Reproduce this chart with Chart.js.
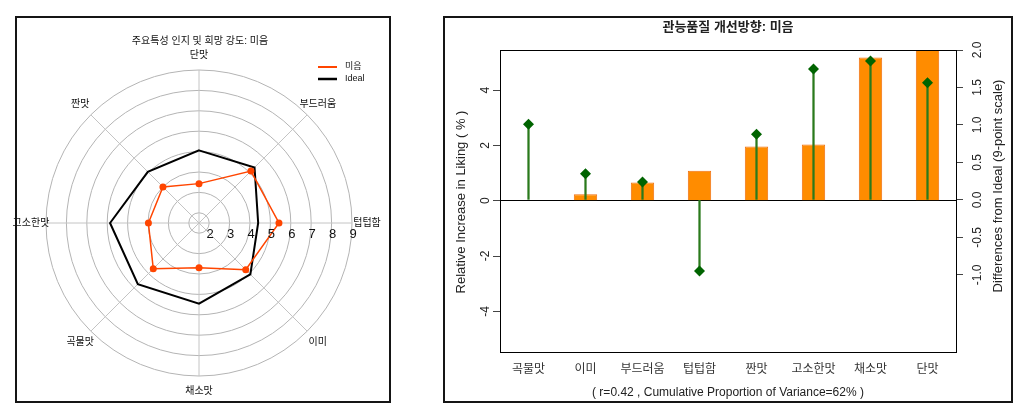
<!DOCTYPE html>
<html>
<head>
<meta charset="utf-8">
<script src="https://cdn.jsdelivr.net/npm/chart.js@4.4.1/dist/chart.umd.min.js"></script>
<style>
  body { margin: 0; background: #fff; }
  #page { position: relative; width: 1032px; height: 412px; }
  .box { position: absolute; border: 2px solid #151515; box-sizing: border-box; }
  canvas { position: absolute; }
</style>
</head>
<body>
<div id="page">
  <div class="box" style="left:15px; top:16px; width:376px; height:387px;"></div>
  <div class="box" style="left:443px; top:16px; width:570px; height:387px;"></div>
  <canvas id="radarChart" width="400" height="412" style="left:0; top:0; width:400px; height:412px;"></canvas>
  <canvas id="liftChart" width="612" height="412" style="left:420px; top:0; width:612px; height:412px;"></canvas>
</div>
<script>
const FONT = "'Liberation Sans', 'Noto Sans CJK KR', sans-serif";

// radar: perceived vs ideal intensity
const radarTitle = '주요특성 인지 및 희망 강도: 미음';
const radarLabels = ['단맛', '부드러움', '텁텁함', '이미', '채소맛', '곡물맛', '고소한맛', '짠맛'];
const mieumValues = [3.43, 5.1, 5.42, 4.74, 3.69, 4.67, 3.98, 4.0];
const idealValues = [5.06, 5.35, 4.4, 5.06, 5.45, 5.74, 5.86, 5.05];
const radarTicks = [2, 3, 4, 5, 6, 7, 8, 9];
const radarMin = 1.5;

// bar + stem chart
const liftTitle = '관능품질 개선방향: 미음';
const liftNote = '( r=0.42 , Cumulative Proportion of Variance=62% )';
const attrLabels = ['곡물맛', '이미', '부드러움', '텁텁함', '짠맛', '고소한맛', '채소맛', '단맛'];
const likingIncrease = [0, 0.23, 0.66, 1.08, 1.96, 2.03, 5.18, 5.45];
const idealDiff = [1.01, 0.35, 0.24, -0.95, 0.876, 1.747, 1.853, 1.564];
const leftTicks = [-4, -2, 0, 2, 4];
const rightTicks = [-1.0, -0.5, 0.0, 0.5, 1.0, 1.5, 2.0];

const radarText = {
    id: 'radarText',
    afterDraw(chart) {
        const ctx = chart.ctx;
        const r = chart.scales.r;
        ctx.save();
        ctx.fillStyle = '#111';
        ctx.textAlign = 'center';
        ctx.textBaseline = 'middle';
        ctx.font = '10px ' + FONT;
        ctx.fillText(radarTitle, 200, 41);

        const outer = r.getDistanceFromCenterForValue(r.max);
        radarLabels.forEach((label, i) => {
            const p = r.getPointPosition(i, outer + 15);
            ctx.fillText(label, p.x, p.y);
        });

        ctx.font = '13px ' + FONT;
        radarTicks.forEach((v) => {
            const d = r.getDistanceFromCenterForValue(v);
            ctx.fillText(String(v), r.xCenter + d + 1, r.yCenter + 11);
        });

        // legend
        ctx.font = '9px ' + FONT;
        ctx.textAlign = 'left';
        ctx.lineWidth = 2;
        ctx.strokeStyle = 'orangered';
        ctx.beginPath(); ctx.moveTo(318, 67); ctx.lineTo(337, 67); ctx.stroke();
        ctx.lineWidth = 2.5;
        ctx.strokeStyle = '#000';
        ctx.beginPath(); ctx.moveTo(318, 79); ctx.lineTo(337, 79); ctx.stroke();
        ctx.fillText('미음', 345, 67);
        ctx.fillText('Ideal', 345, 79);
        ctx.restore();
    }
};

new Chart(document.getElementById('radarChart'), {
    type: 'radar',
    data: {
        labels: radarLabels,
        datasets: [{
            label: '미음',
            data: mieumValues,
            borderColor: 'orangered',
            backgroundColor: 'orangered',
            borderWidth: 1.5,
            pointRadius: 3.5,
            pointBackgroundColor: 'orangered',
            pointBorderWidth: 0,
            fill: false
        }, {
            label: 'Ideal',
            data: idealValues,
            borderColor: '#000',
            borderWidth: 2,
            pointRadius: 0,
            fill: false
        }]
    },
    options: {
        responsive: false,
        animation: false,
        layout: { padding: { left: 46, right: 48, top: 70, bottom: 36 } },
        plugins: { legend: { display: false }, tooltip: { enabled: false } },
        scales: {
            r: {
                min: radarMin,
                max: 9,
                afterBuildTicks: (s) => { s.ticks = [radarMin].concat(radarTicks).map(v => ({ value: v })); },
                ticks: { display: false },
                pointLabels: { display: false },
                grid: { circular: true, color: '#b4b4b4', lineWidth: 1 },
                angleLines: { color: '#c4c4c4', lineWidth: 1 }
            }
        }
    },
    plugins: [radarText]
});

const liftText = {
    id: 'liftText',
    afterDraw(chart) {
        const ctx = chart.ctx;
        const a = chart.chartArea;
        const y = chart.scales.y;
        const y2 = chart.scales.y2;
        ctx.save();
        ctx.strokeStyle = '#000';
        ctx.lineWidth = 1;
        ctx.strokeRect(Math.round(a.left) + 0.5, Math.round(a.top) + 0.5, Math.round(a.right - a.left), Math.round(a.bottom - a.top));

        ctx.fillStyle = '#222';
        ctx.textAlign = 'center';
        ctx.textBaseline = 'middle';
        ctx.font = 'bold 13px ' + FONT;
        ctx.fillText(liftTitle, (a.left + a.right) / 2, 27);
        ctx.font = '12px ' + FONT;
        ctx.fillText(liftNote, (a.left + a.right) / 2, 393);

        const vertical = (text, x, yy) => {
            ctx.save();
            ctx.translate(x, yy);
            ctx.rotate(-Math.PI / 2);
            ctx.fillText(text, 0, 0);
            ctx.restore();
        };
        leftTicks.forEach(v => vertical(String(v), a.left - 14, y.getPixelForValue(v)));
        rightTicks.forEach(v => vertical(v.toFixed(1), a.right + 22, y2.getPixelForValue(v)));
        ctx.font = '13px ' + FONT;
        vertical('Relative Increase in Liking ( % )', a.left - 39, 202);
        vertical('Differences from Ideal (9-point scale)', a.right + 42, 186);
        ctx.restore();
    }
};

new Chart(document.getElementById('liftChart'), {
    type: 'bar',
    data: {
        labels: attrLabels,
        datasets: [{
            type: 'line',
            label: 'Ideal difference',
            data: idealDiff,
            yAxisID: 'y2',
            showLine: false,
            pointStyle: 'rectRot',
            pointRadius: 5.5,
            pointBackgroundColor: '#006400',
            pointBorderColor: '#006400',
            pointBorderWidth: 0,
            order: 1
        }, {
            label: 'stem',
            data: idealDiff.map(v => [0, v]),
            yAxisID: 'y2',
            backgroundColor: '#2a7a1c',
            barThickness: 1.6,
            grouped: false,
            order: 2
        }, {
            label: 'Relative Increase in Liking',
            data: likingIncrease,
            yAxisID: 'y',
            backgroundColor: '#ff8c00',
            borderColor: '#f07010',
            borderWidth: 1,
            barPercentage: 0.41,
            categoryPercentage: 1,
            grouped: false,
            order: 3
        }]
    },
    options: {
        responsive: false,
        animation: false,
        layout: { padding: { left: 0, right: 0, top: 50, bottom: 0 } },
        plugins: { legend: { display: false }, tooltip: { enabled: false } },
        scales: {
            x: {
                type: 'category',
                offset: true,
                grid: { display: false, drawTicks: false },
                border: { display: false },
                ticks: { color: '#333', padding: 10, font: { size: 12, family: FONT } },
                afterFit: (s) => { s.height = 60; }
            },
            y: {
                position: 'left',
                min: -5.47,
                max: 5.45,
                afterBuildTicks: (s) => { s.ticks = leftTicks.map(v => ({ value: v })); },
                ticks: { display: false },
                border: { display: false },
                grid: {
                    color: (c) => (c.tick && c.tick.value === 0 ? '#000' : 'rgba(0,0,0,0)'),
                    tickColor: '#444',
                    tickLength: 7
                },
                afterFit: (s) => { s.width = 80; }
            },
            y2: {
                position: 'right',
                min: -2.03,
                max: 2.0,
                afterBuildTicks: (s) => { s.ticks = rightTicks.map(v => ({ value: v })); },
                ticks: { display: false },
                border: { display: false },
                grid: { drawOnChartArea: false, tickColor: '#444', tickLength: 7 },
                afterFit: (s) => { s.width = 76; }
            }
        }
    },
    plugins: [liftText]
});
</script>
</body>
</html>
